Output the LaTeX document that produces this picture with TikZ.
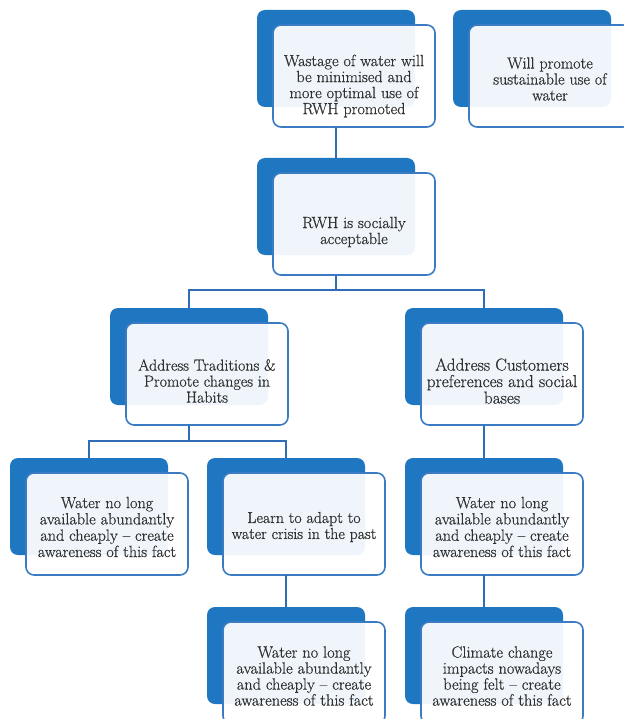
\documentclass[tikz,border=0pt]{standalone}
\usepackage{fontspec}
\setmainfont{Latin Modern Roman}[FakeBold=0.6, Scale=1.11]
\definecolor{bback}{HTML}{1F77C2}
\definecolor{bline}{HTML}{3B7BC3}
\definecolor{cline}{HTML}{2F6EB6}
\definecolor{tcol}{HTML}{303030}
\tikzset{
  backbox/.style={fill=bback, rounded corners=8pt, minimum width=158pt, minimum height=97pt,
    inner sep=0pt, outer sep=0pt, anchor=north west},
  frontbox/.style={draw=bline, line width=1.6pt, fill=white, fill opacity=0.93, draw opacity=1,
    rounded corners=8pt, minimum width=162pt, minimum height=102pt,
    inner sep=0pt, outer sep=0pt, anchor=north west},
  boxtext/.style={text=tcol, align=center, inner sep=0pt, yshift=-3pt,
    font=\fontsize{14.6}{16}\selectfont},
  conn/.style={draw=cline, line width=1.5pt},
}
\newcommand{\SAbox}[5]{%
  \node[backbox] (b#1) at (#2,#3) {};
  \node[frontbox] (w#1) at ({#2+16},{#3+15}) {};
  \node[boxtext,#5] (t#1) at (w#1.center) {#4};
}
\begin{document}
\begin{tikzpicture}[x=1pt,y=-1pt]
  \fill[white] (0,0) rectangle (623,719);
  \useasboundingbox (0,0) rectangle (623,719);

  \SAbox{1}{257}{10}{Wastage of water will\\be minimised and\\more optimal use of\\RWH promoted}{yshift=-7pt, font=\fontsize{14.6}{16}\selectfont}
  \SAbox{2}{453}{10}{Will promote\\sustainable use of\\water}{font=\fontsize{14.5}{16}\selectfont}
  \SAbox{3}{257}{158}{RWH is socially\\acceptable}{yshift=-5pt, font=\fontsize{14.6}{16}\selectfont}
  \SAbox{4}{110}{308}{Address Traditions \&\\Promote changes in\\Habits}{yshift=-4pt, font=\fontsize{14.4}{16}\selectfont}
  \SAbox{5}{405}{308}{Address Customers\\preferences and social\\bases}{yshift=-4pt, font=\fontsize{15.6}{16.5}\selectfont}
  \SAbox{6}{10}{458}{Water no long\\available abundantly\\and cheaply -- create\\awareness of this fact}{font=\fontsize{14.6}{16.3}\selectfont}
  \SAbox{7}{207}{458}{Learn to adapt to\\water crisis in the past}{font=\fontsize{14.3}{16}\selectfont}
  \SAbox{8}{405}{458}{Water no long\\available abundantly\\and cheaply -- create\\awareness of this fact}{font=\fontsize{14.6}{16.3}\selectfont}
  \SAbox{9}{207}{607}{Water no long\\available abundantly\\and cheaply -- create\\awareness of this fact}{font=\fontsize{14.7}{16}\selectfont}
  \SAbox{10}{405}{607}{Climate change\\impacts nowadays\\being felt -- create\\awareness of this fact}{font=\fontsize{14.7}{16}\selectfont}

  \draw[conn] (b1.center |- w1.south) -- (b3.north);
  \draw[conn] (b3.center |- w3.south) -- (b3.center |- 0,290);
  \draw[conn] (b4.north) |- (b3.center |- 0,290) -| (b5.north);
  \draw[conn] (b4.center |- w4.south) -- (b4.center |- 0,441);
  \draw[conn] (b6.north) |- (b4.center |- 0,441) -| (b7.north);
  \draw[conn] (b5.center |- w5.south) -- (b8.north);
  \draw[conn] (b7.center |- w7.south) -- (b9.north);
  \draw[conn] (b8.center |- w8.south) -- (b10.north);
\end{tikzpicture}
\end{document}
